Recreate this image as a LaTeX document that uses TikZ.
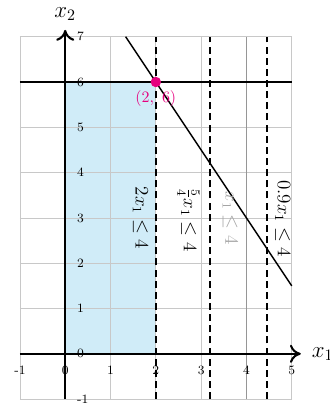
\documentclass[tikz,border=0pt]{standalone}
\usetikzlibrary{arrows.meta,positioning}
\definecolor{Feasible}{RGB}{208,236,248}
\definecolor{Magenta}{RGB}{230,0,126}
\definecolor{GridGray}{RGB}{200,200,200}
\definecolor{MidGray}{RGB}{150,150,150}
\definecolor{LabelGray}{RGB}{165,165,165}
\tikzset{
  axis/.style={-{To[length=2.4mm,width=4mm]},line width=1.3pt},
  bound/.style={line width=1.2pt,dash pattern=on 4.4pt off 2.6pt},
  hardline/.style={line width=1pt,draw=MidGray},
  cons/.style={line width=0.9pt},
  tick/.style={font=\footnotesize,inner sep=1pt},
  conlabel/.style={font=\large,rotate=-90,inner sep=1pt},
  axlabel/.style={font=\Large,inner sep=1pt},
  optpoint/.style={circle,fill=Magenta,inner sep=0pt,minimum size=2.3mm},
  optlabel/.style={font=\normalsize,text=Magenta,inner sep=1pt}
}
\begin{document}
\begin{tikzpicture}[x=1cm,y=1cm]
  \useasboundingbox (-1.44,-1.13) rectangle (5.83,7.81);
  % feasible region and grid
  \fill[Feasible] (0,0) rectangle (2,6);
  \draw[GridGray,line width=0.5pt] (-1,-1) grid (5,7);
  % constraint lines
  \draw[bound] (2,-1) -- (2,7);
  \draw[bound] (3.2,-1) -- (3.2,7);
  \draw[hardline] (4,-1) -- (4,7);
  \draw[bound] (40/9,-1) -- (40/9,7);
  \draw[cons] (-1,6) -- (5,6);
  \draw[cons] (4/3,7) -- (5,1.5);
  % axes
  \coordinate (xs) at (-1,0);
  \coordinate (xe) at (5.2,0);
  \coordinate (ys) at (0,-1);
  \coordinate (ye) at (0,7.15);
  \draw[axis] (xs) -- (xe);
  \draw[axis] (ys) -- (ye);
  \node[axlabel,anchor=west] (xlab) at (5.4,0) {$x_1$};
  \node[axlabel] (ylab) at (0,7.5) {$x_2$};
  \foreach \x in {-1,...,5}
    \node[tick] (xt\x) at (\x,-0.37) {\x};
  \foreach \y in {-1,...,7}
    \node[tick,anchor=west] (yt\y) at (0.22,\y) {\y};
  % optimum
  \node[optpoint] (opt) at (2,6) {};
  \node[optlabel,below=1pt of opt] (optlab) {$(2,\ 6)$};
  % constraint labels
  \node[conlabel] (c1) at (1.66,3.0) {$2x_1 \leq 4$};
  \node[conlabel] (c2) at (2.72,2.96) {$\frac{5}{4}x_1 \leq 4$};
  \node[conlabel,text=LabelGray] (c3) at (3.64,3.0) {$x_1 \leq 4$};
  \node[conlabel] (c4) at (4.8,2.98) {$0.9x_1 \leq 4$};
\end{tikzpicture}
\end{document}
